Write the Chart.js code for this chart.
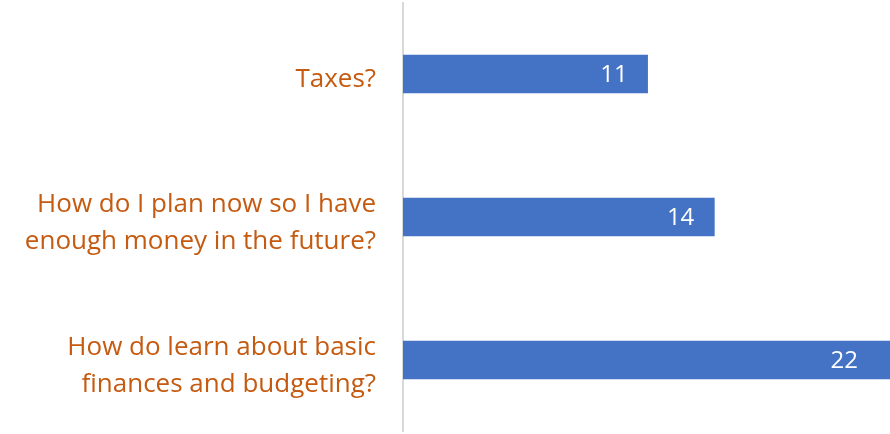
<!DOCTYPE html>
<html>
<head>
<meta charset="utf-8">
<script src="https://cdn.jsdelivr.net/npm/chart.js@4"></script>
<style>
html,body{margin:0;padding:0;background:#fff;overflow:hidden;}
#wrap{width:890px;height:434px;position:relative;}
</style>
</head>
<body>
<div id="wrap"><canvas id="c"></canvas></div>
<script>
const categories = [
  ["Taxes?"],
  ["How do I plan now so I have", "enough money in the future?"],
  ["How do learn about basic", "finances and budgeting?"]
];
const values = [11, 14, 22];

const FONT = "'Open Sans', 'Noto Sans', sans-serif";

const valueLabels = {
  id: 'valueLabels',
  afterDatasetsDraw(chart) {
    const ctx = chart.ctx;
    const area = chart.chartArea;
    const meta = chart.getDatasetMeta(0);
    ctx.save();
    ctx.fillStyle = '#ffffff';
    ctx.font = '24px ' + FONT;
    ctx.textAlign = 'right';
    ctx.textBaseline = 'middle';
    meta.data.forEach((bar, i) => {
      const x = Math.min(bar.x - 20, area.right - 32);
      ctx.fillText(String(values[i]), x, bar.y + 1);
    });
    ctx.restore();
  }
};

new Chart(document.getElementById('c'), {
  type: 'bar',
  data: {
    labels: categories,
    datasets: [{
      data: values,
      backgroundColor: '#4472C4',
      barThickness: 38,
      borderWidth: 0
    }]
  },
  options: {
    indexAxis: 'y',
    responsive: true,
    maintainAspectRatio: false,
    animation: false,
    layout: { padding: { top: 2.5, bottom: 2.5, left: 0, right: 0 } },
    plugins: { legend: { display: false }, tooltip: { enabled: false } },
    scales: {
      x: {
        min: 0,
        max: 21.9,
        display: false,
        grid: { display: false }
      },
      y: {
        grid: { display: false, drawTicks: false },
        border: { display: true, color: '#D9D9D9', width: 2 },
        ticks: {
          color: '#C55A11',
          padding: 27,
          labelOffset: 6,
          font: { family: FONT, size: 26, lineHeight: 1.42 }
        },
        afterFit(scale) {
          scale.width = 403;
          scale.paddingTop = 0;
          scale.paddingBottom = 0;
        }
      }
    }
  },
  plugins: [valueLabels]
});
</script>
</body>
</html>
